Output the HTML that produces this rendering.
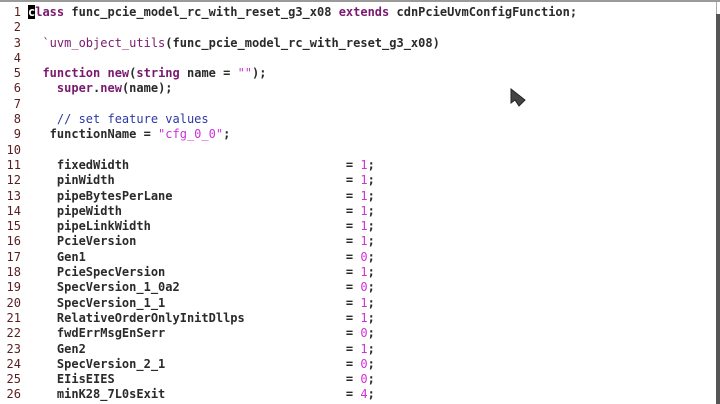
<!DOCTYPE html>
<html><head><meta charset="utf-8"><style>
html,body{margin:0;padding:0;background:#fff;width:720px;height:404px;overflow:hidden}
#top{position:absolute;left:0;top:0;width:720px;height:2px;background:#9a9a9a}
#sb{position:absolute;left:716px;top:14px;width:4px;height:390px;background:#555}
#sbt{position:absolute;left:716px;top:2px;width:1px;height:12px;background:#aaa}
pre{position:absolute;left:0;top:5px;margin:0;font-family:"DejaVu Sans Mono","Liberation Mono",monospace;font-size:12px;line-height:15.3px;color:#2a2a2a;font-weight:bold}
.n{color:#5a1e1e;font-weight:normal;display:inline-block;width:21px;text-align:right;margin-right:7px}
.k{color:#7a1a6e}
.m{color:#d030d8;font-weight:normal}
.c{color:#2c3aa0;font-weight:normal}
.cur{background:#000;color:#fff}
#ptr{position:absolute;left:510px;top:88px}
</style></head><body>
<div id="top"></div><div id="sbt"></div><div id="sb"></div>
<pre><span class="n">1</span><span class="k"><span class="cur">c</span>lass</span> func_pcie_model_rc_with_reset_g3_x08 <span class="k">extends</span> cdnPcieUvmConfigFunction;
<span class="n">2</span>
<span class="n">3</span>  <span class="k" style="font-weight:normal">`uvm_object_utils</span>(func_pcie_model_rc_with_reset_g3_x08)
<span class="n">4</span>
<span class="n">5</span>  <span class="k">function</span> <span class="k">new</span>(<span class="k">string</span> name = <span class="m">""</span>);
<span class="n">6</span>    <span class="k">super</span>.<span class="k">new</span>(name);
<span class="n">7</span>
<span class="n">8</span>    <span class="c">// set feature values</span>
<span class="n">9</span>   functionName = <span class="m">"cfg_0_0"</span>;
<span class="n">10</span>
<span class="n">11</span>    fixedWidth                              = <span class="m">1</span>;
<span class="n">12</span>    pinWidth                                = <span class="m">1</span>;
<span class="n">13</span>    pipeBytesPerLane                        = <span class="m">1</span>;
<span class="n">14</span>    pipeWidth                               = <span class="m">1</span>;
<span class="n">15</span>    pipeLinkWidth                           = <span class="m">1</span>;
<span class="n">16</span>    PcieVersion                             = <span class="m">1</span>;
<span class="n">17</span>    Gen1                                    = <span class="m">0</span>;
<span class="n">18</span>    PcieSpecVersion                         = <span class="m">1</span>;
<span class="n">19</span>    SpecVersion_1_0a2                       = <span class="m">0</span>;
<span class="n">20</span>    SpecVersion_1_1                         = <span class="m">1</span>;
<span class="n">21</span>    RelativeOrderOnlyInitDllps              = <span class="m">1</span>;
<span class="n">22</span>    fwdErrMsgEnSerr                         = <span class="m">0</span>;
<span class="n">23</span>    Gen2                                    = <span class="m">1</span>;
<span class="n">24</span>    SpecVersion_2_1                         = <span class="m">0</span>;
<span class="n">25</span>    EIisEIES                                = <span class="m">0</span>;
<span class="n">26</span>    minK28_7L0sExit                         = <span class="m">4</span>;</pre>
<svg id="ptr" width="16" height="20" viewBox="0 0 16 20"><path d="M1 1 L1 15 L5 12 L9 18 L15 12 Z" fill="#444" stroke="#222" stroke-width="1"/></svg>
</body></html>
